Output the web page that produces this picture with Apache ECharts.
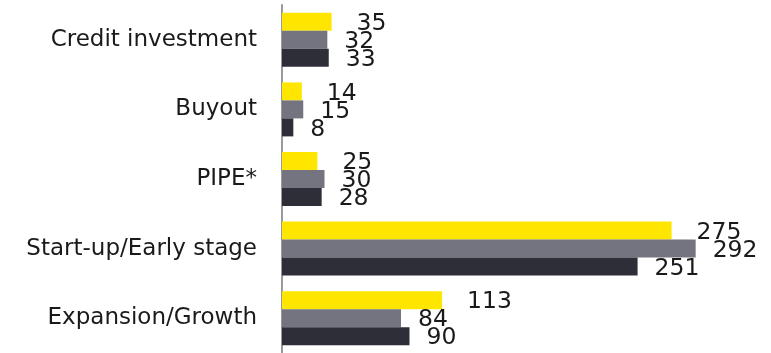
<!DOCTYPE html>
<html>
<head>
<meta charset="utf-8">
<script src="https://cdn.jsdelivr.net/npm/echarts@6/dist/echarts.min.js"></script>
<style>
  html, body { margin: 0; padding: 0; background: #fff; }
  #chart { width: 771px; height: 353px; }
</style>
</head>
<body>
<div id="chart"></div>
<script>
// Deal categories, top to bottom
const categories = ['Credit investment', 'Buyout', 'PIPE*', 'Start-up/Early stage', 'Expansion/Growth'];

// Deal counts per period (three series drawn per category)
const seriesA = [35, 14, 25, 275, 113];
const seriesB = [32, 15, 30, 292, 84];
const seriesC = [33, 8, 28, 251, 90];

const colors = ['#FFE600', '#747480', '#2E2E38'];
const labelFont = '"DejaVu Sans", sans-serif';

function makeSeries(data, color, dist) {
  return {
    type: 'bar',
    data: data,
    barWidth: 18,
    barGap: '0%',
    itemStyle: { color: color },
    label: {
      show: true,
      position: 'right',
      distance: dist,
      offset: [0, 2],
      color: '#1a1a1a',
      fontFamily: labelFont,
      fontWeight: 'normal',
      fontSize: 23.5
    }
  };
}

const chart = echarts.init(document.getElementById('chart'), null, { renderer: 'canvas' });
chart.setOption({
  animation: false,
  grid: { left: 282, top: 5, width: 425, height: 348, containLabel: false },
  xAxis: {
    type: 'value',
    min: 0,
    max: 300,
    show: false
  },
  yAxis: {
    type: 'category',
    data: categories,
    inverse: true,
    axisLine: { show: true, lineStyle: { color: '#9a9a9a', width: 2 } },
    axisTick: { show: false },
    axisLabel: {
      margin: 25,
      color: '#1a1a1a',
      fontFamily: labelFont,
      fontWeight: 'normal',
      fontSize: 23
    }
  },
  series: [
    makeSeries(seriesA, colors[0], 25),
    makeSeries(seriesB, colors[1], 17),
    makeSeries(seriesC, colors[2], 17)
  ]
});
</script>
</body>
</html>
